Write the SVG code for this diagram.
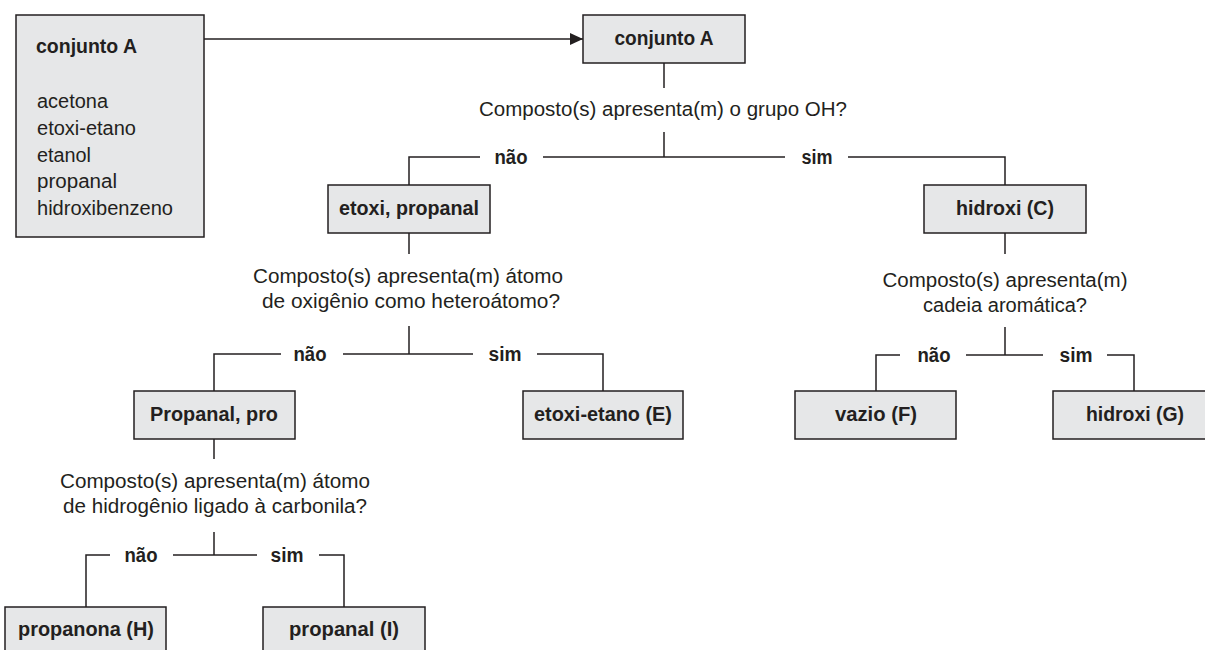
<svg xmlns="http://www.w3.org/2000/svg" width="1205" height="650" viewBox="0 0 1205 650">
  <style>
    .box { fill: #e6e7e8; stroke: #231f20; stroke-width: 1.5; }
    .lbl { font-family: "Liberation Sans", Arial, sans-serif; font-weight: bold; font-size: 20px; fill: #231f20; text-anchor: middle; }
    .txt { font-family: "Liberation Sans", Arial, sans-serif; font-size: 20px; fill: #231f20; }
    .q { font-family: "Liberation Sans", Arial, sans-serif; font-size: 20px; fill: #231f20; text-anchor: middle; }
    .yn { font-family: "Liberation Sans", Arial, sans-serif; font-weight: bold; font-size: 20px; fill: #231f20; text-anchor: middle; }
    .ln { fill: none; stroke: #231f20; stroke-width: 1.5; }
  </style>
  <defs>
    <marker id="arrow" markerUnits="userSpaceOnUse" markerWidth="14" markerHeight="14" refX="13" refY="6" orient="auto">
      <path d="M0,0 L13,6 L0,12 Z" fill="#231f20"/>
    </marker>
  </defs>

  <!-- connectors -->
  <g id="connectors" class="ln">
    <line x1="204" y1="39" x2="583" y2="39" marker-end="url(#arrow)"/>
    <!-- level 1 -->
    <line x1="664" y1="63" x2="664" y2="88"/>
    <line x1="664" y1="132" x2="664" y2="157"/>
    <polyline points="480,157 409,157 409,185"/>
    <line x1="543" y1="157" x2="785" y2="157"/>
    <polyline points="848,157 1005,157 1005,185"/>
    <!-- level 2 left -->
    <line x1="409" y1="233" x2="409" y2="254"/>
    <line x1="409" y1="326" x2="409" y2="354"/>
    <polyline points="281,354 214,354 214,391"/>
    <line x1="343" y1="354" x2="473" y2="354"/>
    <polyline points="537,354 603,354 603,391"/>
    <!-- level 2 right -->
    <line x1="1005" y1="233" x2="1005" y2="254"/>
    <line x1="1005" y1="327" x2="1005" y2="355"/>
    <polyline points="900,355 876,355 876,391"/>
    <line x1="966" y1="355" x2="1043" y2="355"/>
    <polyline points="1107,355 1134,355 1134,391"/>
    <!-- level 3 -->
    <line x1="214" y1="439" x2="214" y2="459"/>
    <line x1="214" y1="532" x2="214" y2="555"/>
    <polyline points="110,555 86,555 86,607"/>
    <line x1="173" y1="555" x2="257" y2="555"/>
    <polyline points="319,555 344,555 344,607"/>
  </g>

  <!-- labels on connectors -->
  <g id="branch-labels">
    <text class="yn" x="511" y="164" textLength="33" lengthAdjust="spacingAndGlyphs">não</text>
    <text class="yn" x="817" y="164" textLength="31" lengthAdjust="spacingAndGlyphs">sim</text>
    <text class="yn" x="310" y="361" textLength="33" lengthAdjust="spacingAndGlyphs">não</text>
    <text class="yn" x="505" y="361" textLength="33" lengthAdjust="spacingAndGlyphs">sim</text>
    <text class="yn" x="934" y="362" textLength="33" lengthAdjust="spacingAndGlyphs">não</text>
    <text class="yn" x="1076" y="362" textLength="33" lengthAdjust="spacingAndGlyphs">sim</text>
    <text class="yn" x="141" y="562" textLength="33" lengthAdjust="spacingAndGlyphs">não</text>
    <text class="yn" x="287" y="562" textLength="33" lengthAdjust="spacingAndGlyphs">sim</text>
  </g>

  <!-- questions -->
  <g id="questions">
    <text class="q" x="663" y="116" textLength="368" lengthAdjust="spacingAndGlyphs">Composto(s) apresenta(m) o grupo OH?</text>
    <text class="q" x="408" y="283" textLength="310" lengthAdjust="spacingAndGlyphs">Composto(s) apresenta(m) átomo</text>
    <text class="q" x="411" y="308" textLength="298" lengthAdjust="spacingAndGlyphs">de oxigênio como heteroátomo?</text>
    <text class="q" x="1005" y="287" textLength="245" lengthAdjust="spacingAndGlyphs">Composto(s) apresenta(m)</text>
    <text class="q" x="1005" y="312" textLength="164" lengthAdjust="spacingAndGlyphs">cadeia aromática?</text>
    <text class="q" x="215" y="488" textLength="310" lengthAdjust="spacingAndGlyphs">Composto(s) apresenta(m) átomo</text>
    <text class="q" x="215" y="513" textLength="304" lengthAdjust="spacingAndGlyphs">de hidrogênio ligado à carbonila?</text>
  </g>

  <!-- nodes -->
  <g id="node-conjunto-list">
    <rect class="box" x="16" y="15" width="188" height="222"/>
    <text class="txt" x="36" y="53" font-weight="bold" textLength="101" lengthAdjust="spacingAndGlyphs">conjunto A</text>
    <text class="txt" x="37" y="108" textLength="71" lengthAdjust="spacingAndGlyphs">acetona</text>
    <text class="txt" x="37" y="135" textLength="99" lengthAdjust="spacingAndGlyphs">etoxi-etano</text>
    <text class="txt" x="37" y="162" textLength="54" lengthAdjust="spacingAndGlyphs">etanol</text>
    <text class="txt" x="37" y="188" textLength="80" lengthAdjust="spacingAndGlyphs">propanal</text>
    <text class="txt" x="37" y="215" textLength="136" lengthAdjust="spacingAndGlyphs">hidroxibenzeno</text>
  </g>
  <g id="node-conjunto-A">
    <rect class="box" x="583" y="15" width="162" height="48"/>
    <text class="lbl" x="664" y="45" textLength="99" lengthAdjust="spacingAndGlyphs">conjunto A</text>
  </g>
  <g id="node-etoxi-propanal">
    <rect class="box" x="328" y="185" width="162" height="48"/>
    <text class="lbl" x="409" y="215" textLength="140" lengthAdjust="spacingAndGlyphs">etoxi, propanal</text>
  </g>
  <g id="node-hidroxi-C">
    <rect class="box" x="924" y="185" width="162" height="48"/>
    <text class="lbl" x="1005" y="215" textLength="98" lengthAdjust="spacingAndGlyphs">hidroxi (C)</text>
  </g>
  <g id="node-propanal-pro">
    <rect class="box" x="134" y="391" width="161" height="48"/>
    <text class="lbl" x="214" y="421" textLength="128" lengthAdjust="spacingAndGlyphs">Propanal, pro</text>
  </g>
  <g id="node-etoxi-etano-E">
    <rect class="box" x="523" y="391" width="160" height="48"/>
    <text class="lbl" x="603" y="421" textLength="138" lengthAdjust="spacingAndGlyphs">etoxi-etano (E)</text>
  </g>
  <g id="node-vazio-F">
    <rect class="box" x="795" y="391" width="161" height="48"/>
    <text class="lbl" x="876" y="421" textLength="82" lengthAdjust="spacingAndGlyphs">vazio (F)</text>
  </g>
  <g id="node-hidroxi-G">
    <rect class="box" x="1053" y="391" width="164" height="48"/>
    <text class="lbl" x="1135" y="421" textLength="98" lengthAdjust="spacingAndGlyphs">hidroxi (G)</text>
  </g>
  <g id="node-propanona-H">
    <rect class="box" x="5" y="607" width="161" height="48"/>
    <text class="lbl" x="86" y="636" textLength="136" lengthAdjust="spacingAndGlyphs">propanona (H)</text>
  </g>
  <g id="node-propanal-I">
    <rect class="box" x="263" y="607" width="162" height="48"/>
    <text class="lbl" x="344" y="636" textLength="110" lengthAdjust="spacingAndGlyphs">propanal (I)</text>
  </g>
</svg>
